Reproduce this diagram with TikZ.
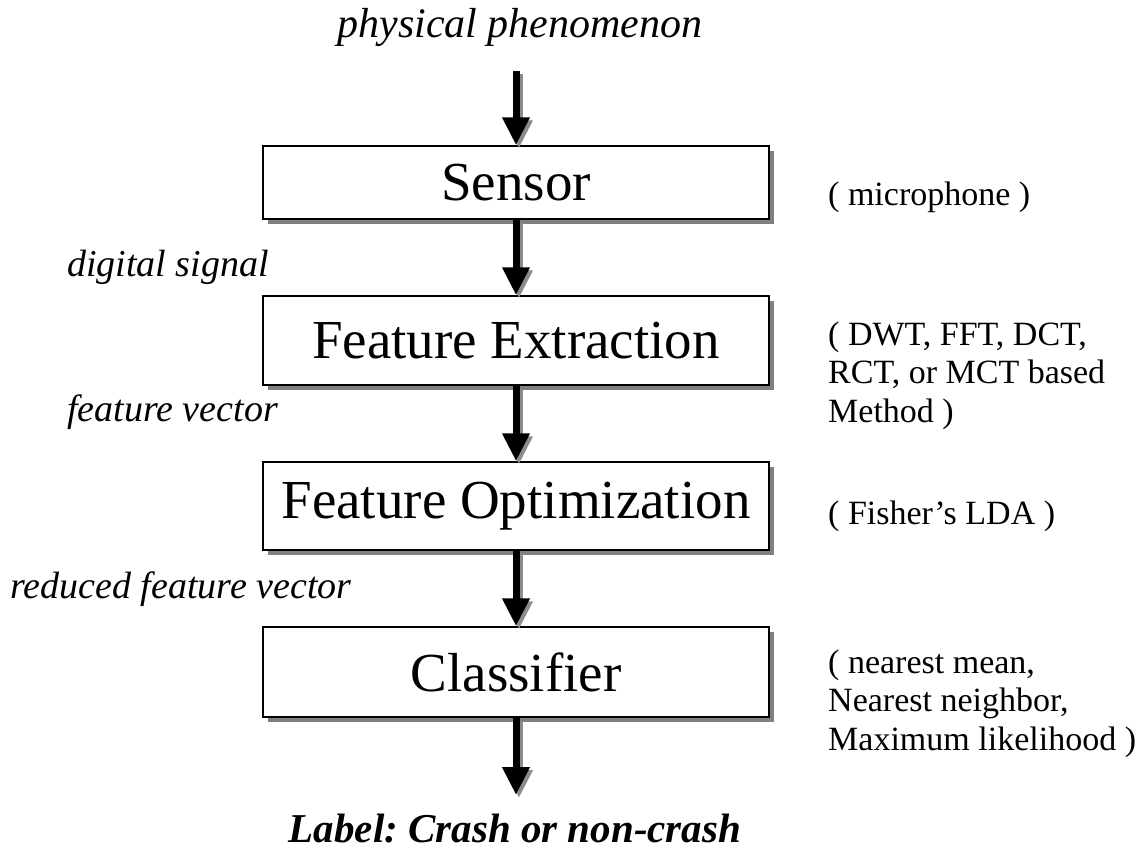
\documentclass[tikz,border=0pt]{standalone}
\usepackage{fontspec}
\setmainfont{Liberation Serif}
\usetikzlibrary{arrows.meta,shadows}
\begin{document}
\frenchspacing
\begin{tikzpicture}[x=1pt,y=-1pt,
  stagebox/.style={draw=black,line width=1.5pt,fill=white,minimum width=506pt,
    inner sep=0pt,font=\fontsize{55}{60}\selectfont,
    drop shadow={shadow xshift=5pt,shadow yshift=-5pt,fill=black!50,opacity=1}},
  flowarrow/.style={line width=7pt,-{Triangle[width=26pt,length=28pt]}},
  flowshadow/.style={flowarrow,draw=black!45,fill=black!45},
  sidelabel/.style={anchor=base west,inner sep=0pt,font=\fontsize{38}{40}\selectfont\itshape},
  note/.style={anchor=base west,inner sep=0pt,align=left,font=\fontsize{34}{38.5}\selectfont}]
\useasboundingbox (0,0) rectangle (1138,859);

% boxes
\node[stagebox,minimum height=73pt] (sensor) at (516,182.5) {Sensor};
\node[stagebox,minimum height=89pt] (fe) at (516,340.5) {Feature Extraction};
\node[stagebox,minimum height=88pt] (fo) at (516,506) {Feature Optimization};
\node[stagebox,minimum height=90pt] (cl) at (516,672) {Classifier};

\coordinate (top) at (516,71);
\coordinate (bot) at (516,795);

% arrow shadows
\draw[flowshadow] ([shift={(3,3)}]top) -- ([shift={(3,3)}]sensor.north);
\draw[flowshadow] ([shift={(3,3)}]sensor.south) -- ([shift={(3,3)}]fe.north);
\draw[flowshadow] ([shift={(3,3)}]fe.south) -- ([shift={(3,3)}]fo.north);
\draw[flowshadow] ([shift={(3,3)}]fo.south) -- ([shift={(3,3)}]cl.north);
\draw[flowshadow] ([shift={(3,3)}]cl.south) -- ([shift={(3,3)}]bot);
% arrows
\draw[flowarrow] (top) -- (sensor.north);
\draw[flowarrow] (sensor.south) -- (fe.north);
\draw[flowarrow] (fe.south) -- (fo.north);
\draw[flowarrow] (fo.south) -- (cl.north);
\draw[flowarrow] (cl.south) -- (bot);

% top and bottom labels
\node[anchor=base,inner sep=0pt,font=\fontsize{42}{44}\selectfont\itshape] (phen) at (520,38) {physical phenomenon};
\node[anchor=base,inner sep=0pt,font=\fontsize{41}{44}\selectfont\bfseries\itshape] (lab) at (515,842) {Label: Crash or non-crash};

% left labels
\node[sidelabel] (ds) at (67,276) {digital signal};
\node[sidelabel] (fv) at (67,421) {feature vector};
\node[sidelabel] (rfv) at (10,598) {reduced feature vector};

% right notes (base = baseline of last line)
\node[note] (n1) at (828,205) {( microphone )};
\node[note] (n2) at (828,422) {( DWT, FFT, DCT,\\RCT, or MCT based\\Method )};
\node[note] (n3) at (828,524) {( Fisher's LDA )};
\node[note] (n4) at (828,750) {( nearest mean,\\Nearest neighbor,\\Maximum likelihood )};
\end{tikzpicture}
\end{document}
